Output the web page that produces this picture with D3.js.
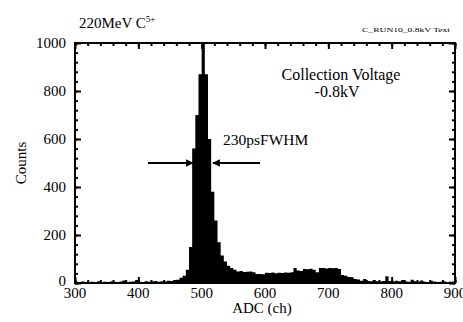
<!DOCTYPE html>
<html>
<head>
<meta charset="utf-8">
<script src="https://cdn.jsdelivr.net/npm/d3@7"></script>
<style>
  html, body { margin: 0; padding: 0; background: #fff; }
  svg { display: block; }
  text { font-family: "Liberation Serif", "Times New Roman", serif; fill: #000; }
</style>
</head>
<body>
<svg id="chart" width="463" height="322"></svg>
<script>
// ADC spectrum, 5-channel bins starting at 300
const binStart = 300;
const binWidth = 5;
const counts = [
  5, 3, 6, 4, 3, 5, 4, 7, 3, 5,          // 300-345
  4, 6, 5, 3, 6, 10, 4, 5, 6, 12,        // 350-395
  5, 4, 7, 5, 6, 8, 5, 7, 6, 9,          // 400-445
  8, 12, 14, 22, 30, 55, 150, 560, 700, 870, // 450-495
  1000, 870, 600, 380, 260, 170, 115, 90, 72, 62, // 500-545
  55, 48, 50, 46, 47, 48, 45, 37, 38, 36, // 550-595
  43, 42, 44, 41, 43, 42, 44, 43, 45, 62, // 600-645
  52, 50, 58, 57, 59, 55, 45, 62, 63, 60, // 650-695
  62, 61, 63, 58, 33, 30, 25, 24, 17, 15, // 700-745
  9, 17, 8, 7, 12, 7, 6, 8, 28, 8,       // 750-795
  6, 9, 7, 12, 6, 5, 14, 7, 6, 10,       // 800-845
  5, 4, 9, 6, 4, 5, 7, 4, 5, 6           // 850-895
];
const xTicks = [300, 400, 500, 600, 700, 800, 900];
const yTicks = [0, 200, 400, 600, 800, 1000];

// step points: each bin's left edge, plus a closing point at the last right edge
const steps = counts.map((c, i) => ({ ch: binStart + i * binWidth, n: c }));
steps.push({ ch: binStart + counts.length * binWidth, n: counts[counts.length - 1] });

const svg = d3.select("#chart");
const W = 463, H = 322;
const m = { left: 75, top: 43, right: 8, bottom: 39 };
const iw = W - m.left - m.right;
const ih = H - m.top - m.bottom;

const x = d3.scaleLinear().domain([300, 900]).range([0, iw]);
const y = d3.scaleLinear().domain([0, 1000]).range([ih, 0]);

const g = svg.append("g").attr("transform", `translate(${m.left},${m.top})`);

g.append("clipPath").attr("id", "plot-clip")
  .append("rect").attr("width", iw).attr("height", ih);

// filled step histogram
const area = d3.area()
  .curve(d3.curveStepAfter)
  .x(d => x(d.ch))
  .y0(y(0))
  .y1(d => y(d.n));
g.append("path").attr("clip-path", "url(#plot-clip)")
  .datum(steps)
  .attr("d", area)
  .attr("fill", "#000");

// inward ticks on all four sides
const xMinor = d3.range(300, 901, 20);
const yMinor = d3.range(0, 1001, 40);
function ticksOnly(axis, vals, size) {
  return axis.tickValues(vals).tickSizeInner(size).tickSizeOuter(0).tickFormat("");
}
const tickGroups = [
  g.append("g").attr("transform", `translate(0,${ih})`).call(ticksOnly(d3.axisBottom(x), xMinor, -3)),
  g.append("g").attr("transform", `translate(0,${ih})`).call(ticksOnly(d3.axisBottom(x), xTicks, -6)),
  g.append("g").call(ticksOnly(d3.axisTop(x), xMinor, -3)),
  g.append("g").call(ticksOnly(d3.axisTop(x), xTicks, -6)),
  g.append("g").call(ticksOnly(d3.axisLeft(y), yMinor, -3)),
  g.append("g").call(ticksOnly(d3.axisLeft(y), yTicks, -6)),
  g.append("g").attr("transform", `translate(${iw},0)`).call(ticksOnly(d3.axisRight(y), yMinor, -3)),
  g.append("g").attr("transform", `translate(${iw},0)`).call(ticksOnly(d3.axisRight(y), yTicks, -6))
];
tickGroups.forEach(t => {
  t.select(".domain").remove();
  t.selectAll("line").attr("stroke", "#000").attr("stroke-width", 2);
});

// frame
g.append("rect").attr("width", iw).attr("height", ih)
  .attr("fill", "none").attr("stroke", "#000").attr("stroke-width", 2);

// tick labels
g.append("g").selectAll("text").data(xTicks).join("text")
  .attr("x", d => x(d)).attr("y", ih + 15)
  .attr("text-anchor", "middle").attr("font-size", 15)
  .text(d => d);
g.append("g").selectAll("text").data(yTicks).join("text")
  .attr("x", -9).attr("y", d => y(d) + (d === 0 ? 3 : 5))
  .attr("text-anchor", "end").attr("font-size", 15)
  .text(d => d);

// axis titles
svg.append("text").attr("x", m.left + iw / 2 - 3).attr("y", 313)
  .attr("text-anchor", "middle").attr("font-size", 15).text("ADC (ch)");
svg.append("text").attr("transform", "translate(26,163) rotate(-90)")
  .attr("text-anchor", "middle").attr("font-size", 15).text("Counts");

// headings
const title = svg.append("text").attr("x", 79).attr("y", 28).attr("font-size", 15);
title.append("tspan").text("220MeV C");
title.append("tspan").attr("dy", -6).attr("font-size", 9).text("5+");
svg.append("text").attr("x", 362).attr("y", 32).attr("font-size", 7)
  .attr("textLength", 88).attr("lengthAdjust", "spacingAndGlyphs")
  .text("C_RUN10_0.8kV Text");

// annotations
svg.append("text").attr("x", 341).attr("y", 80).attr("text-anchor", "middle")
  .attr("font-size", 16).text("Collection Voltage");
svg.append("text").attr("x", 337).attr("y", 97).attr("text-anchor", "middle")
  .attr("font-size", 16).text("-0.8kV");
svg.append("text").attr("x", 223).attr("y", 145)
  .attr("font-size", 15.5).text("230psFWHM");

// FWHM arrows
const defs = svg.append("defs");
defs.append("marker").attr("id", "head")
  .attr("viewBox", "0 0 10 10").attr("refX", 9).attr("refY", 5)
  .attr("markerWidth", 4).attr("markerHeight", 3.5)
  .attr("markerUnits", "strokeWidth").attr("orient", "auto")
  .append("path").attr("d", "M0,0 L10,5 L0,10 Z").attr("fill", "#000");
svg.append("line").attr("x1", 148).attr("y1", 163).attr("x2", 193).attr("y2", 163)
  .attr("stroke", "#000").attr("stroke-width", 2.2).attr("marker-end", "url(#head)");
svg.append("line").attr("x1", 260).attr("y1", 163).attr("x2", 213).attr("y2", 163)
  .attr("stroke", "#000").attr("stroke-width", 2.2).attr("marker-end", "url(#head)");
</script>
</body>
</html>
